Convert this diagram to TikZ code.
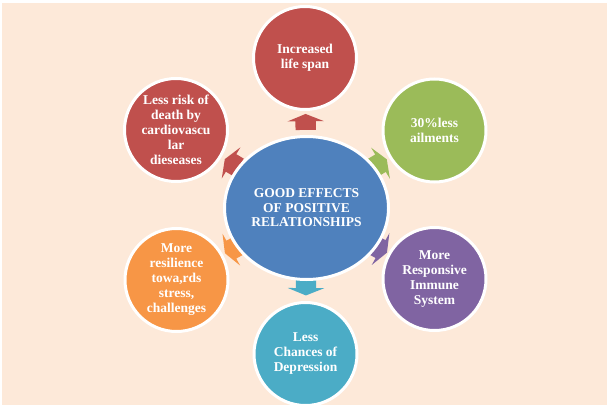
\documentclass[tikz,border=0pt]{standalone}
\usepackage{fontspec}
\setmainfont{Liberation Serif}
\usetikzlibrary{shapes.geometric,shapes.arrows}
\definecolor{bgpeach}{HTML}{FDE9D9}
\definecolor{hubblue}{HTML}{4F81BD}
\definecolor{redA}{HTML}{C0504D}
\definecolor{greenA}{HTML}{9BBB59}
\definecolor{purpleA}{HTML}{8064A2}
\definecolor{aquaA}{HTML}{4BACC6}
\definecolor{orangeA}{HTML}{F79646}
\pgfdeclarelayer{bglayer}
\pgfdeclarelayer{arrowlayer}
\pgfsetlayers{bglayer,arrowlayer,main}
\begin{document}
\begin{tikzpicture}[x=1pt,y=1pt,
  txt/.style={text=white, font=\bfseries\fontsize{13.5}{15}\selectfont, align=center},
  bubble/.style={circle, fill=#1, draw=white, line width=3pt, minimum size=103pt, inner sep=0pt, txt},
  hub/.style={ellipse, fill=hubblue, draw=white, line width=3pt, minimum width=164pt, minimum height=143pt, inner sep=0pt, txt, font=\bfseries\fontsize{13.5}{14.5}\selectfont},
  linkarrow/.style={single arrow, fill=#1, draw=none, minimum height=16pt, inner xsep=0pt, inner ysep=10pt, single arrow head extend=8pt, single arrow tip angle=136, sloped, allow upside down, pos=0.56}]
\useasboundingbox (0,0) rectangle (609,410);
\begin{pgfonlayer}{bglayer}
\fill[bgpeach] (2,5) rectangle (607,407);
\end{pgfonlayer}
\node[hub] (hub) at (306.5,202) {GOOD EFFECTS\\OF POSITIVE\\RELATIONSHIPS};
\node[bubble=redA] (top) at (305,352) {Increased\\life span};
\node[bubble=greenA] (green) at (434.5,279.5) {30\%less\\ailments};
\node[bubble=purpleA] (purple) at (434.5,131) {More\\Responsive\\Immune\\System};
\node[bubble=aquaA] (aqua) at (305.5,56) {Less\\Chances of\\Depression};
\node[bubble=orangeA] (orange) at (176.5,130) {More\\resilience\\towa,rds\\stress,\\challenges};
\node[bubble=redA] (left) at (176,280) {Less risk of\\death by\\cardiovascu\\lar\\dieseases};
\begin{pgfonlayer}{arrowlayer}
\path (hub.center) -- node[linkarrow=redA] {} (top.center);
\path (hub.center) -- node[linkarrow=greenA] {} (green.center);
\path (hub.center) -- node[linkarrow=purpleA] {} (purple.center);
\path (hub.center) -- node[linkarrow=aquaA, pos=0.53] {} (aqua.center);
\path (hub.center) -- node[linkarrow=orangeA] {} (orange.center);
\path (hub.center) -- node[linkarrow=redA] {} (left.center);
\end{pgfonlayer}
\end{tikzpicture}
\end{document}
